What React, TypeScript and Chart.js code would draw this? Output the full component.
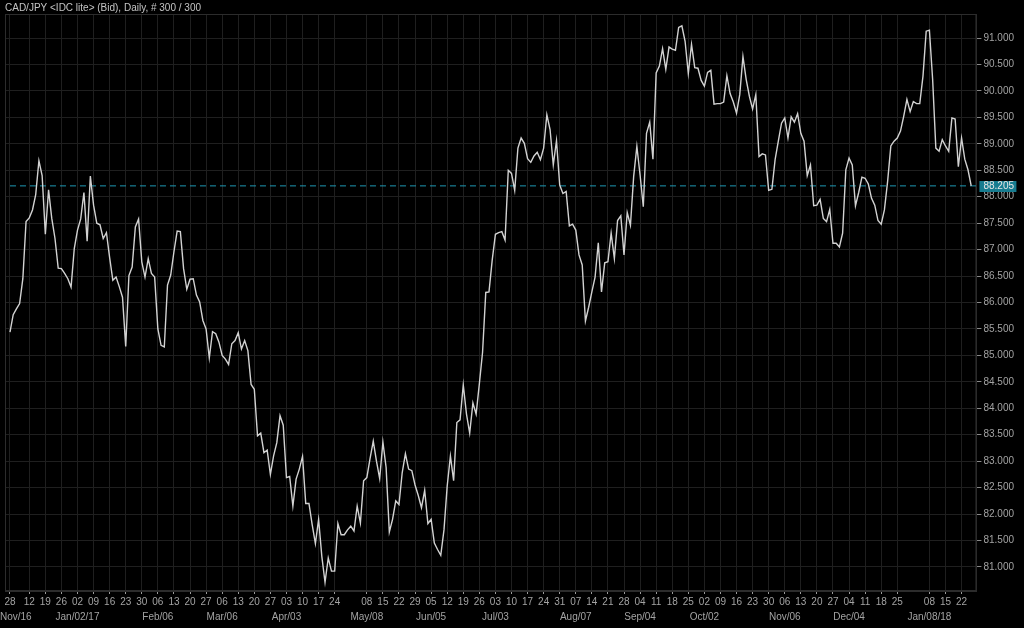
import React, { useEffect, useRef } from "react";
import { Chart, registerables } from "chart.js";

Chart.register(...registerables);

const TITLE = "CAD/JPY <IDC lite> (Bid), Daily, # 300 / 300";
const FIRST_BAR_DATE = "2016-12-02";
const BAR_COUNT = 300;
const LAST_PRICE = 88.205;

const closes = [
  85.44, 85.77, 85.88, 85.98, 86.45, 87.53, 87.6, 87.75, 88.04, 88.68,
  88.4, 87.29, 88.13, 87.59, 87.21, 86.65, 86.64, 86.55, 86.45, 86.29,
  87.02, 87.37, 87.58, 88.08, 87.16, 88.39, 87.84, 87.5, 87.47, 87.21,
  87.32, 86.85, 86.42, 86.48, 86.3, 86.1, 85.17, 86.51, 86.67, 87.43,
  87.58, 86.77, 86.48, 86.83, 86.55, 86.48, 85.5, 85.19, 85.16, 86.33,
  86.52, 86.96, 87.35, 87.34, 86.64, 86.25, 86.44, 86.45, 86.14, 86.01,
  85.66, 85.5, 84.95, 85.45, 85.41, 85.25, 85.0, 84.93, 84.83, 85.22,
  85.28, 85.43, 85.12, 85.28, 85.09, 84.45, 84.36, 83.48, 83.53, 83.16,
  83.21, 82.75, 83.1, 83.35, 83.86, 83.68, 82.69, 82.71, 82.15, 82.66,
  82.85, 83.09, 82.2, 82.2, 81.8, 81.44, 81.9, 81.2, 80.71, 81.17,
  80.92, 80.92, 81.82, 81.61, 81.61, 81.7, 81.77, 81.68, 82.15, 81.83,
  82.63, 82.69, 83.05, 83.38, 83.0, 82.67, 83.36, 82.88, 81.66, 81.9,
  82.25, 82.18, 82.78, 83.14, 82.85, 82.82, 82.55, 82.35, 82.12, 82.45,
  81.82, 81.9, 81.45, 81.33, 81.22, 81.7, 82.53, 83.1, 82.63, 83.73,
  83.78, 84.44, 83.89, 83.53, 84.1, 83.89, 84.46, 85.06, 86.19, 86.2,
  86.8, 87.29, 87.32, 87.34, 87.18, 88.5, 88.44, 88.12, 88.92, 89.11,
  89.01, 88.72, 88.65, 88.77, 88.84, 88.7, 88.92, 89.55, 89.27, 88.6,
  89.06, 88.22, 88.06, 88.1, 87.45, 87.48, 87.37, 86.9, 86.71, 85.65,
  85.91, 86.2, 86.48, 87.13, 86.2, 86.75, 86.77, 87.31, 86.83, 87.55,
  87.64, 86.9, 87.7, 87.46, 88.38, 88.95, 88.41, 87.81, 89.2, 89.41,
  88.71, 90.34, 90.47, 90.8, 90.41, 90.83, 90.79, 90.77, 91.2, 91.23,
  90.94, 90.33, 90.88, 90.44, 90.43, 90.2, 90.09, 90.35, 90.39, 89.75,
  89.76, 89.76, 89.79, 90.29, 89.95, 89.79, 89.58, 89.93, 90.65, 90.22,
  89.9, 89.66, 89.93, 88.76, 88.81, 88.79, 88.12, 88.14, 88.7, 89.05,
  89.39, 89.49, 89.11, 89.51, 89.41, 89.57, 89.2, 89.05, 88.4, 88.6,
  87.83, 87.84, 87.95, 87.59, 87.53, 87.76, 87.12, 87.12, 87.05, 87.31,
  88.51, 88.73, 88.6, 87.83, 88.08, 88.37, 88.35, 88.24, 87.97, 87.84,
  87.55, 87.48, 87.75, 88.29, 88.96, 89.05, 89.11, 89.24, 89.52, 89.84,
  89.61, 89.8, 89.76, 89.76, 90.28, 91.13, 91.15, 90.22, 88.92, 88.86,
  89.08, 88.96, 88.86, 89.49, 89.47, 88.57, 89.11, 88.71, 88.51, 88.205,
];

const yTickValues = [
  81, 81.5, 82, 82.5, 83, 83.5, 84, 84.5, 85, 85.5, 86, 86.5, 87, 87.5, 88,
  88.5, 89, 89.5, 90, 90.5, 91,
];
const Y_MIN = 80.545;
const Y_MAX = 91.455;
const X_MIN = -1.55;
const X_MAX = 300.62;

const dayTickDates = [
  "2016-12-02", "2016-12-12", "2016-12-19", "2016-12-26",
  "2017-01-02", "2017-01-09", "2017-01-16", "2017-01-23", "2017-01-30",
  "2017-02-06", "2017-02-13", "2017-02-20", "2017-02-27",
  "2017-03-06", "2017-03-13", "2017-03-20", "2017-03-27",
  "2017-04-03", "2017-04-10", "2017-04-17", "2017-04-24",
  "2017-05-08", "2017-05-15", "2017-05-22", "2017-05-29",
  "2017-06-05", "2017-06-12", "2017-06-19", "2017-06-26",
  "2017-07-03", "2017-07-10", "2017-07-17", "2017-07-24", "2017-07-31",
  "2017-08-07", "2017-08-14", "2017-08-21", "2017-08-28",
  "2017-09-04", "2017-09-11", "2017-09-18", "2017-09-25",
  "2017-10-02", "2017-10-09", "2017-10-16", "2017-10-23", "2017-10-30",
  "2017-11-06", "2017-11-13", "2017-11-20", "2017-11-27",
  "2017-12-04", "2017-12-11", "2017-12-18", "2017-12-25",
  "2018-01-08", "2018-01-15", "2018-01-22",
];
const dayTickLabels = [
  "28", "12", "19", "26",
  "02", "09", "16", "23", "30",
  "06", "13", "20", "27",
  "06", "13", "20", "27",
  "03", "10", "17", "24",
  "08", "15", "22", "29",
  "05", "12", "19", "26",
  "03", "10", "17", "24", "31",
  "07", "14", "21", "28",
  "04", "11", "18", "25",
  "02", "09", "16", "23", "30",
  "06", "13", "20", "27",
  "04", "11", "18", "25",
  "08", "15", "22",
];
const monthLabelDates = [
  "2016-12-02", "2017-01-02", "2017-02-06", "2017-03-06", "2017-04-03",
  "2017-05-08", "2017-06-05", "2017-07-03", "2017-08-07", "2017-09-04",
  "2017-10-02", "2017-11-06", "2017-12-04", "2018-01-08",
];
const monthLabels = [
  "Nov/16", "Jan/02/17", "Feb/06", "Mar/06", "Apr/03", "May/08", "Jun/05",
  "Jul/03", "Aug/07", "Sep/04", "Oct/02", "Nov/06", "Dec/04", "Jan/08/18",
];

// trading-day calendar (weekdays) for the bar index axis
function buildBarDates(start: string, count: number): string[] {
  const out: string[] = [];
  const d = new Date(start + "T00:00:00Z");
  while (out.length < count) {
    const wd = d.getUTCDay();
    if (wd !== 0 && wd !== 6) out.push(d.toISOString().slice(0, 10));
    d.setUTCDate(d.getUTCDate() + 1);
  }
  return out;
}

const FONT = "'Liberation Sans', Arial, Helvetica, sans-serif";
const TEXT_COLOR = "#a3a3a3";
const GRID_COLOR = "#1f1f1f";
const TEAL = "#1f9bb5";

export default function App() {
  const ref = useRef<HTMLCanvasElement | null>(null);

  useEffect(() => {
    const canvas = ref.current;
    if (!canvas) return;
    const barDates = buildBarDates(FIRST_BAR_DATE, BAR_COUNT);
    const tickIdx = dayTickDates.map((d) => barDates.indexOf(d));
    const labelMap = new Map<number, string>();
    tickIdx.forEach((v, k) => labelMap.set(v, dayTickLabels[k]));
    const monthIdx = monthLabelDates.map((d) => barDates.indexOf(d));

    const priceData = closes.map((y, i) => ({ x: i, y }));
    const lastLine = [
      { x: 0, y: LAST_PRICE },
      { x: X_MAX, y: LAST_PRICE },
    ];

    const framePlugin = {
      id: "frame",
      beforeDatasetsDraw(chart: any) {
        const { ctx, chartArea: a } = chart;
        ctx.save();
        ctx.strokeStyle = "#2c2c2c";
        ctx.lineWidth = 1;
        ctx.strokeRect(a.left + 0.5, a.top + 0.5, a.right - a.left - 1, a.bottom - a.top - 1);
        ctx.restore();
      },
    };

    const monthRowPlugin = {
      id: "monthRow",
      afterDraw(chart: any) {
        const { ctx, chartArea: a } = chart;
        const xs = chart.scales.x;
        ctx.save();
        ctx.font = `10px ${FONT}`;
        ctx.fillStyle = TEXT_COLOR;
        ctx.textAlign = "center";
        ctx.textBaseline = "middle";
        monthIdx.forEach((idx, k) => {
          const text = monthLabels[k];
          const w = ctx.measureText(text).width;
          let x = xs.getPixelForValue(idx);
          x = Math.max(x, w / 2);
          ctx.fillText(text, x, a.bottom + 26);
        });
        ctx.restore();
      },
    };

    const priceTagPlugin = {
      id: "priceTag",
      afterDraw(chart: any) {
        const { ctx, chartArea: a } = chart;
        const y = chart.scales.y.getPixelForValue(LAST_PRICE);
        ctx.save();
        ctx.fillStyle = "#177c90";
        ctx.fillRect(a.right + 3, Math.round(y) - 5, 37, 11);
        ctx.font = `10px ${FONT}`;
        ctx.fillStyle = "#e6e6e6";
        ctx.textAlign = "left";
        ctx.textBaseline = "middle";
        ctx.fillText(LAST_PRICE.toFixed(3), a.right + 7, Math.round(y) + 0.5);
        ctx.restore();
      },
    };

    const chart = new Chart(canvas, {
      type: "line",
      data: {
        datasets: [
          {
            label: "CAD/JPY",
            data: priceData,
            borderColor: "#d2d2d2",
            borderWidth: 1.4,
            pointRadius: 0,
            tension: 0,
            order: 1,
          },
          {
            label: "Last",
            data: lastLine,
            borderColor: TEAL,
            borderWidth: 1,
            borderDash: [6, 4],
            pointRadius: 0,
            order: 2,
          },
        ],
      },
      options: {
        animation: false,
        responsive: false,
        devicePixelRatio: 1,
        parsing: false as any,
        normalized: true,
        layout: { padding: { left: 5, right: 8, top: 0, bottom: 18 } },
        plugins: {
          legend: { display: false },
          tooltip: { enabled: false },
          title: {
            display: true,
            text: TITLE,
            align: "start",
            color: "#c4c4c4",
            font: { family: FONT, size: 10, weight: "normal" },
            padding: { top: 2, bottom: 0 },
          },
        },
        scales: {
          x: {
            type: "linear",
            min: X_MIN,
            max: X_MAX,
            afterBuildTicks: (s: any) => {
              s.ticks = tickIdx.map((v) => ({ value: v }));
            },
            ticks: {
              autoSkip: false,
              maxRotation: 0,
              minRotation: 0,
              padding: 2,
              color: TEXT_COLOR,
              font: { family: FONT, size: 10 },
              callback: (v: any) => labelMap.get(Number(v)) ?? "",
            },
            grid: { color: GRID_COLOR, tickColor: "#9a9a9a", tickLength: 3 },
            border: { color: "#2c2c2c" },
          },
          y: {
            type: "linear",
            position: "right",
            min: Y_MIN,
            max: Y_MAX,
            afterBuildTicks: (s: any) => {
              s.ticks = yTickValues.map((v) => ({ value: v }));
            },
            ticks: {
              padding: 2,
              color: TEXT_COLOR,
              font: { family: FONT, size: 10 },
              callback: (v: any) => Number(v).toFixed(3),
            },
            grid: { color: GRID_COLOR, tickColor: "#8a8a8a", tickLength: 5 },
            border: { color: "#2c2c2c" },
          },
        },
      },
      plugins: [framePlugin, monthRowPlugin, priceTagPlugin],
    });
    return () => chart.destroy();
  }, []);

  return (
    <div
      style={{
        position: "absolute",
        left: 0,
        top: 0,
        width: 1024,
        height: 628,
        background: "#000",
      }}
    >
      <canvas ref={ref} width={1024} height={628} style={{ display: "block" }} />
    </div>
  );
}
